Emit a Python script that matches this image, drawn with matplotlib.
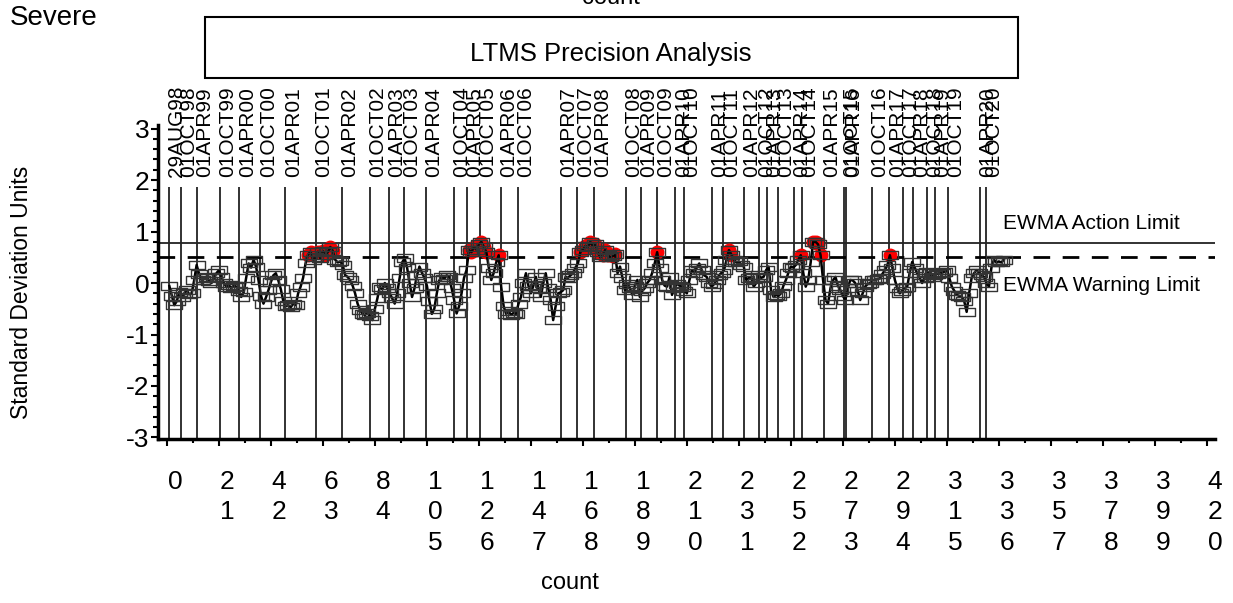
import matplotlib
matplotlib.use("Agg")
import matplotlib.pyplot as plt
from matplotlib.path import Path
from matplotlib.patches import Rectangle
from matplotlib.transforms import ScaledTranslation
import numpy as np

plt.rcParams["font.family"] = ["Liberation Sans", "DejaVu Sans"]

# EWMA values per test (count 1..338)
ewma = [
    -0.06, -0.25, -0.43, -0.35, -0.17, -0.28, -0.20, -0.14, -0.22, -0.20,
    0.05, 0.35, 0.18, 0.06, 0.10, 0.12, 0.04, 0.00, 0.10, 0.19,
    0.25, 0.12, 0.00, -0.07, -0.04, -0.10, -0.05, -0.07, -0.15, -0.27,
    -0.18, 0.10, 0.38, 0.30, 0.45, 0.32, 0.05, -0.25, -0.40, -0.28,
    -0.14, 0.02, 0.15, 0.19, 0.05, -0.12, -0.35, -0.45, -0.43, -0.47,
    -0.40, -0.43, -0.20, -0.07, 0.10, 0.38, 0.55, 0.61, 0.45, 0.50,
    0.61, 0.48, 0.62, 0.55, 0.60, 0.70, 0.62, 0.45, 0.40, 0.42,
    0.35, 0.15, 0.12, 0.05, -0.05, -0.20, -0.40, -0.52, -0.60, -0.62,
    -0.58, -0.65, -0.72, -0.50, -0.30, -0.07, -0.12, 0.00, -0.10, -0.20,
    -0.30, -0.40, -0.20, 0.10, 0.40, 0.48, 0.30, 0.00, -0.27, -0.10,
    0.15, 0.32, 0.20, 0.10, -0.05, -0.35, -0.60, -0.50, -0.20, 0.05,
    0.12, 0.08, 0.15, 0.12, -0.10, -0.33, -0.59, -0.45, -0.20, 0.10,
    0.25, 0.64, 0.60, 0.70, 0.65, 0.75, 0.80, 0.70, 0.60, 0.30,
    0.06, 0.20, 0.40, 0.54, -0.07, -0.45, -0.60, -0.55, -0.62, -0.58,
    -0.60, -0.40, -0.27, 0.00, 0.19, -0.05, -0.20, -0.05, 0.12, -0.10,
    -0.27, 0.00, 0.19, -0.10, -0.33, -0.72, -0.45, -0.20, -0.18, -0.14,
    0.12, 0.10, 0.15, 0.19, 0.30, 0.38, 0.60, 0.65, 0.72, 0.70,
    0.80, 0.72, 0.75, 0.60, 0.50, 0.55, 0.64, 0.55, 0.50, 0.52,
    0.57, 0.19, 0.32, 0.10, -0.14, -0.01, -0.10, -0.23, -0.05, 0.06,
    -0.27, -0.15, -0.10, 0.00, 0.06, 0.20, 0.38, 0.60, 0.30, 0.06,
    -0.05, -0.07, 0.12, -0.23, -0.10, -0.01, -0.05, -0.07, -0.15, -0.20,
    0.05, 0.25, 0.20, 0.30, 0.38, 0.25, 0.15, 0.12, 0.00, -0.07,
    -0.02, 0.06, 0.15, 0.20, 0.25, 0.45, 0.64, 0.55, 0.45, 0.40,
    0.42, 0.35, 0.32, 0.06, 0.10, 0.12, -0.07, 0.00, 0.15, 0.10,
    0.12, 0.25, 0.32, -0.14, -0.27, -0.23, -0.25, -0.20, -0.05, 0.06,
    0.20, 0.32, 0.30, 0.35, 0.45, 0.54, 0.20, -0.07, 0.06, 0.40,
    0.80, 0.80, 0.75, 0.54, 0.06, -0.33, -0.40, -0.10, 0.05, 0.12,
    -0.05, -0.14, -0.25, -0.33, -0.10, 0.06, 0.05, 0.00, -0.15, -0.33,
    -0.20, -0.07, -0.02, 0.00, 0.06, 0.05, 0.08, 0.09, 0.18, 0.25,
    0.35, 0.54, 0.30, 0.06, -0.10, -0.20, -0.15, -0.10, -0.07, 0.20,
    0.41, 0.30, 0.19, 0.10, 0.00, 0.10, 0.22, 0.20, 0.12, 0.15,
    0.18, 0.19, 0.20, 0.22, 0.25, 0.10, -0.07, -0.15, -0.23, -0.25,
    -0.27, -0.35, -0.56, -0.20, 0.10, 0.19, 0.25, 0.20, 0.15, 0.12,
    0.00, -0.07, 0.30, 0.45, 0.40, 0.42, 0.40, 0.45,
]
counts = np.arange(1, len(ewma) + 1)

# reference dates (count at which each calendar mark falls)
date_labels = ["29AUG98", "01OCT98", "01APR99", "01OCT99", "01APR00", "01OCT00",
               "01APR01", "01OCT01", "01APR02", "01OCT02", "01APR03", "01OCT03",
               "01APR04", "01OCT04", "01APR05", "01OCT05", "01APR06", "01OCT06",
               "01APR07", "01OCT07", "01APR08", "01OCT08", "01APR09", "01OCT09",
               "01APR10", "01OCT10", "01APR11", "01OCT11", "01APR12", "01OCT12",
               "01APR13", "01OCT13", "01APR14", "01OCT14", "01APR15", "01OCT15",
               "01APR16", "01OCT16", "01APR17", "01OCT17", "01APR18", "01OCT18",
               "01APR19", "01OCT19", "01APR20", "01OCT20"]
date_counts = [0.8, 5.5, 12.1, 21.3, 29.2, 37.7, 47.8, 60.2, 70.7, 82.0, 89.5, 95.7,
               104.6, 115.9, 121.0, 126.4, 134.9, 141.8, 159.0, 165.7, 172.6, 185.3,
               191.3, 198.0, 205.3, 208.8, 220.1, 224.7, 233.0, 239.1, 242.3, 246.7,
               253.2, 256.4, 265.3, 273.4, 274.2, 284.6, 291.7, 297.1, 301.4, 306.8,
               310.2, 315.3, 328.3, 330.7]

action_limit = 0.78
warning_limit = 0.50
x_ticks = list(range(0, 421, 21))
y_ticks = [-3, -2, -1, 0, 1, 2, 3]

fig = plt.figure(figsize=(12.33, 6.03), dpi=100)
ax = fig.add_axes([158 / 1233, 1 - 439 / 603, (1215 - 158) / 1233, (439 - 125) / 603])
ax.set_xlim(-3.6, 423.3)
ax.set_ylim(-3.03, 3.07)

for s in ["top", "right"]:
    ax.spines[s].set_visible(False)
for s in ["left", "bottom"]:
    ax.spines[s].set_linewidth(2.5)

# date reference lines + labels
ax.vlines(date_counts, -3.03, 1.86, color="#222222", lw=1.3, zorder=1)
for d, lab in zip(date_counts, date_labels):
    ax.annotate(lab, (d, 2.06), xytext=(8, 0), textcoords="offset pixels",
                rotation=90, ha="center", va="bottom", fontsize=15)

ax.axhline(action_limit, color="#222222", lw=1.3, zorder=1)
ax.axhline(warning_limit, color="black", lw=2, ls=(0, (6, 4.5)), zorder=1)
ax.text(337.6, action_limit + 0.37, "EWMA Action Limit", fontsize=15, va="center")
ax.text(337.6, warning_limit - 0.54, "EWMA Warning Limit", fontsize=15, va="center")

vals = np.array(ewma)
hot = vals > warning_limit
ax.plot(counts[hot], vals[hot], "o", color="red", ms=9, mec="red", zorder=2)
ax.plot(counts, vals, color="black", lw=1.8, zorder=3)
rect = Path([(-1, -0.5), (1, -0.5), (1, 0.5), (-1, 0.5), (-1, -0.5)],
            [Path.MOVETO, Path.LINETO, Path.LINETO, Path.LINETO, Path.CLOSEPOLY])
ax.plot(counts, vals, ls="none", marker=rect, ms=11, mfc="none", mec="#333333",
        mew=1.0, zorder=4)

ax.set_xticks(x_ticks)
ax.set_xticklabels(["\n".join(str(t)) for t in x_ticks], fontsize=19, va="top",
                   linespacing=1.35)
ax.set_xticks([t + 10.5 for t in x_ticks[:-1]], minor=True)
ax.set_yticks(y_ticks)
ax.set_yticklabels([str(t) for t in y_ticks], fontsize=19)
ax.set_yticks(np.arange(-3, 3.01, 0.2), minor=True)
ax.tick_params(axis="x", which="major", length=5, width=1.5, pad=17)
ax.tick_params(axis="x", which="minor", length=3, width=1.5)
ax.tick_params(axis="y", which="major", length=5, width=1.5, pad=1)
ax.tick_params(axis="y", which="minor", length=3.5, width=1.5)
shift = ScaledTranslation(8 / 100, 0, fig.dpi_scale_trans)
for lab in ax.get_xticklabels():
    lab.set_transform(lab.get_transform() + shift)

ax.set_xlabel("count", fontsize=17)
ax.xaxis.set_label_coords((570 - 158) / (1215 - 158), -(583 - 439) / (439 - 125))
ax.xaxis.label.set_va("center")
ax.set_ylabel("Standard Deviation Units", fontsize=16.5)
ax.yaxis.set_label_coords(-(158 - 22) / (1215 - 158), (439 - 292) / (439 - 125))
ax.yaxis.label.set_va("center")

# header: title box, clipped top label, severity tag
fig.patches.append(Rectangle((205 / 1233, 1 - 78 / 603), (1018 - 205) / 1233, 61 / 603,
                             transform=fig.transFigure, fill=False, ec="black", lw=1.5))
fig.text(611 / 1233, 1 - 54 / 603, "LTMS Precision Analysis", fontsize=18.5,
         ha="center", va="center")
fig.text(611 / 1233, 1 + 2 / 603, "count", fontsize=17, ha="center", va="center")
fig.text(10 / 1233, 1 - 18 / 603, "Severe", fontsize=20, ha="left", va="center")

fig.savefig("out.png", dpi=100)
